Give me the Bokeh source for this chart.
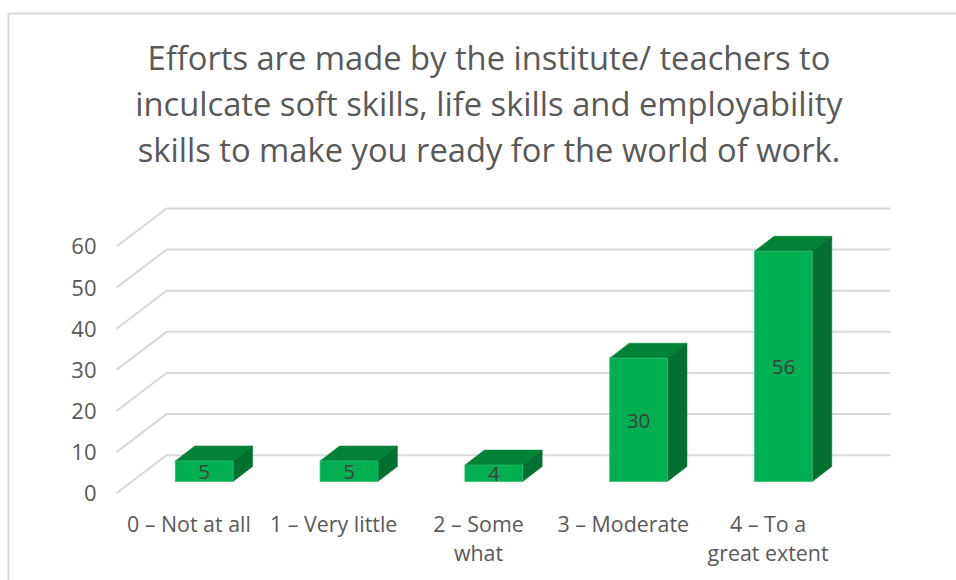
from bokeh.plotting import figure
from bokeh.models import LinearAxis, FixedTicker, Label
from bokeh.embed import file_html
from bokeh.resources import INLINE

categories = ["0 – Not at all", "1 – Very little", "2 – Some", "3 – Moderate", "4 – To a"]
categories_line2 = {2: "what", 4: "great extent"}
values = [5, 5, 4, 30, 56]
y_ticks = [0, 10, 20, 30, 40, 50, 60]
title_lines = ["Efforts are made by the institute/ teachers to",
               "inculcate soft skills, life skills and employability",
               "skills to make you ready for the world of work."]

FONT = "Open Sans"
W, H = 956, 580
X0, Y0 = 116.0, 492.7           # plot origin in figure pixels
CAT = 144.8                     # px per category
VAL = 4.112                     # px per value unit

def sx(px): return -0.5 + (px - X0) / CAT
def sy(px): return (Y0 - px) / VAL

p = figure(width=W, height=H, output_backend="svg", toolbar_location=None,
           x_range=(sx(0), sx(W)), y_range=(sy(H), sy(0)),
           min_border=0, min_border_left=0, min_border_right=0, min_border_top=0, min_border_bottom=0,
           x_axis_location=None, y_axis_location=None)
p.grid.visible = False
p.outline_line_color = None
p.background_fill_color = "white"
p.border_fill_color = "white"

GRID = "#D9D9D9"
GW = 2
WALL_X = 50.0 / CAT
WALL_Y = 38.0 / VAL
BAR_DX = 19.5 / CAT
BAR_DY = 15.0 / VAL
BAR_W = 57.8 / CAT
BAR_OFF = 15.3 / CAT            # offset of the bar front from the category centre
BAR_BASE = 11.7 / VAL           # front baseline above the axis zero
RIGHT = sx(890)

# outer border
p.line([sx(8), sx(8)], [sy(H), sy(13)], line_color=GRID, line_width=GW)
p.line([sx(8), sx(W)], [sy(13), sy(13)], line_color=GRID, line_width=GW)

for t in y_ticks:
    p.line([-0.5, -0.5 + WALL_X, RIGHT], [t, t + WALL_Y, t + WALL_Y], line_color=GRID, line_width=GW)

for i, v in enumerate(values):
    l = i + BAR_OFF - BAR_W / 2
    r = l + BAR_W
    b = BAR_BASE
    t = BAR_BASE + v
    p.patch([l, r, r + BAR_DX, l + BAR_DX], [t, t, t + BAR_DY, t + BAR_DY],
            fill_color="#008237", line_color="#008237", line_width=0.5)
    p.patch([r, r + BAR_DX, r + BAR_DX, r], [b, b + BAR_DY, t + BAR_DY, t],
            fill_color="#007030", line_color="#007030", line_width=0.5)
    p.quad(left=l, right=r, bottom=b, top=t, fill_color="#00B050", line_color="#2CBE6C", line_width=0.75)
    p.add_layout(Label(x=(l + r) / 2, y=b + v / 2, text=str(v), text_font=FONT, text_font_size="20.5px",
                       text_color="#404040", text_align="center", text_baseline="middle", y_offset=-1))

ya = LinearAxis(fixed_location=-0.5, ticker=FixedTicker(ticks=y_ticks))
ya.axis_line_color = None
ya.major_tick_line_color = None
ya.minor_tick_line_color = None
ya.major_label_standoff = 14
ya.major_label_text_font = FONT
ya.major_label_text_font_size = "22px"
ya.major_label_text_color = "#595959"
p.add_layout(ya, "left")

def cat_axis(labels, standoff):
    a = LinearAxis(fixed_location=0, ticker=FixedTicker(ticks=list(labels)),
                   major_label_overrides=labels)
    a.axis_line_color = None
    a.major_tick_line_color = None
    a.minor_tick_line_color = None
    a.major_label_standoff = standoff
    a.major_label_text_font = FONT
    a.major_label_text_font_size = "21.4px"
    a.major_label_text_color = "#595959"
    p.add_layout(a, "below")

cat_axis({i: c for i, c in enumerate(categories)}, 10)
cat_axis(categories_line2, 39)

for line, py in zip(title_lines, (57, 103, 149)):
    p.add_layout(Label(x=sx(488.5), y=sy(py), text=line, text_font=FONT, text_font_size="32.7px",
                       text_color="#595959", text_align="center", text_baseline="middle"))

open("out.html", "w").write(file_html(p, INLINE))
